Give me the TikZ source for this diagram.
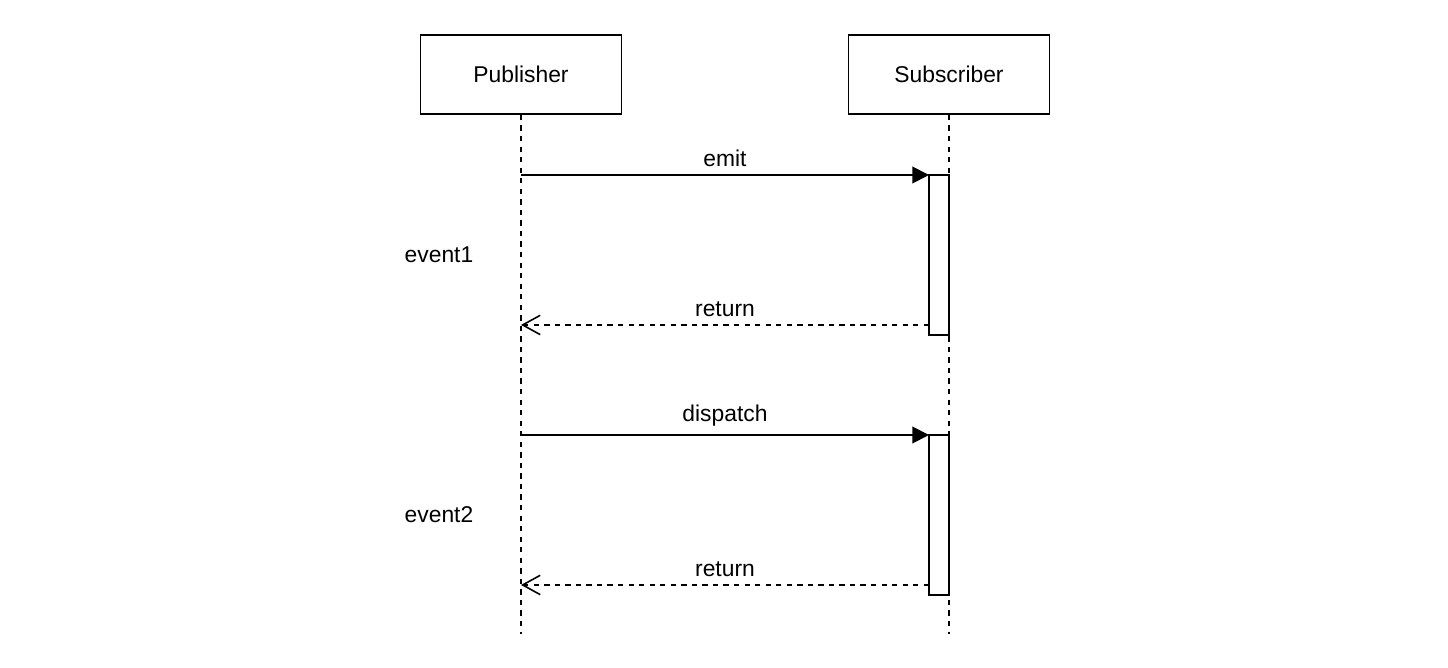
\documentclass[tikz,border=0pt]{standalone}
\usepackage{fontspec}
\setmainfont{Liberation Sans}
\usetikzlibrary{arrows.meta,positioning,calc}

\begin{document}
\begin{tikzpicture}[x=0.02cm,y=-0.02cm,line width=1.1pt,
  font=\fontsize{13}{15}\selectfont,
  actor/.style={draw,minimum width=4.02cm,minimum height=1.58cm},
  activation/.style={draw,fill=white,minimum width=0.4cm,minimum height=3.2cm,inner sep=0pt,outer sep=0pt},
  lifeline/.style={dash pattern=on 3pt off 3pt},
  call/.style={-{Triangle[length=9.5pt,width=9.5pt]}},
  reply/.style={dash pattern=on 3pt off 3pt,-{Straight Barb[length=10pt,width=11pt,line width=0.9pt]}}]
\useasboundingbox (0,0) rectangle (1448,668);
% define the two actors
\node[actor] (pub) at (521,74.5) {Publisher};
\node[actor] (sub) at (949,74.5) {Subscriber};
% lifelines
\coordinate (pubend) at (521,634);
\coordinate (subend) at (949,634);
\draw[lifeline] (pub) -- (pubend);
\draw[lifeline] (sub) -- (subend);
% activation boxes on the subscriber
\node[activation,anchor=north east] (act1) at (949,175) {};
\node[activation,anchor=north east] (act2) at (949,435) {};
% event1: emit and return
\coordinate (emit) at (pub.south |- act1.north);
\draw[call] (emit) -- (act1.north west) node[midway,above=1pt] (emitlbl) {emit};
\coordinate (ret1) at ($(act1.south west)+(0,-10)$);
\draw[reply] (ret1) -- (pub.south |- ret1) node[midway,above=1pt] (ret1lbl) {return};
% event2: dispatch and return
\coordinate (disp) at (pub.south |- act2.north);
\draw[call] (disp) -- (act2.north west) node[midway,above=1pt] (displbl) {dispatch};
\coordinate (ret2) at ($(act2.south west)+(0,-10)$);
\draw[reply] (ret2) -- (pub.south |- ret2) node[midway,above=1pt] (ret2lbl) {return};
% label the events
\node (ev1) at (439,255) {event1};
\node (ev2) at (439,515) {event2};
\end{tikzpicture}
\end{document}
